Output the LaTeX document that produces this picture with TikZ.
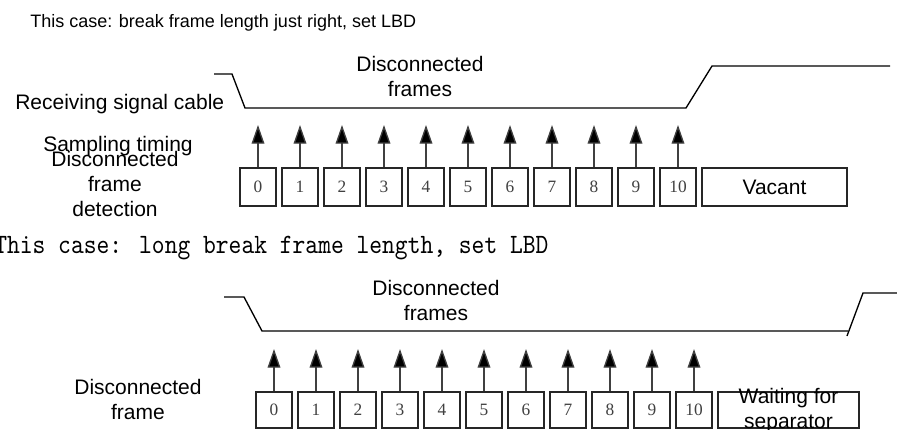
\documentclass[tikz,border=0pt]{standalone}
\usepackage{fontspec}
\setmainfont{Liberation Sans}
\newfontfamily\numfont{Liberation Serif}
\newfontfamily\cnmono{lmmono10-regular.otf}[FakeStretch=0.87]
\usetikzlibrary{arrows.meta}
\begin{document}
\begin{tikzpicture}[x=0.75pt,y=-0.75pt,
  lbl/.style={font=\fontsize{15.75}{18.75}\selectfont, inner sep=0, align=center},
  title/.style={font=\fontsize{13.5}{16}\selectfont, inner sep=0},
  wave/.style={line width=1pt, black},
  cell/.style={draw=black!85, line width=0.8pt, minimum width=27pt, inner sep=0,
    font=\numfont\fontsize{13}{15}\selectfont, text=black!75},
  bigcell/.style={draw=black!85, line width=0.8pt, inner sep=0, font=\fontsize{15.75}{18.75}\selectfont, align=center},
  samp/.style={draw=black!75, line width=1pt, -{Triangle[length=14pt,width=9.5pt,fill=black]}}]
\fill[white] (0,0) rectangle (897,429);
\useasboundingbox (0,0) rectangle (897,429);

% ---------- upper case ----------
\node[title, anchor=base west] (title1) at (30,27) {This case: break frame length just right, set LBD};
\node[lbl] (dfr1) at (420,76) {Disconnected\\frames};
\node[lbl, anchor=west] (rsc) at (15,104) {Receiving signal cable};
\draw[wave] (214,74) -- (232,74) -- (245,108) -- (686,108) -- (712,66) -- (890,66);
\node[lbl] (st) at (118,146) {Sampling timing};
\node[lbl] (dfd) at (115,184) {Disconnected\\frame\\detection};
\foreach \i in {0,...,10} {
  \node[cell, minimum height=28.5pt] (t\i) at ({258+42*\i},187) {\i};
  \coordinate (ta\i) at ({258+42*\i},125);
  \draw[samp] (t\i) -- (ta\i);
}
\node[bigcell, minimum width=108.75pt, minimum height=28.5pt] (vac) at (774.5,187) {Vacant};

% ---------- lower case ----------
\node[anchor=base west, inner sep=0, font=\cnmono\fontsize{21}{24}\selectfont] (title2) at (-6,253) {This case: long break frame length, set LBD};
\node[lbl] (dfr2) at (436,300) {Disconnected\\frames};
\draw[wave] (224,297) -- (244,297) -- (262,331) -- (848,331);
\draw[wave] (847,336) -- (863,293) -- (897,293);
\node[lbl] (dfb) at (138,399) {Disconnected\\frame};
\foreach \i in {0,...,10} {
  \node[cell, minimum height=27pt] (b\i) at ({274+42*\i},410) {\i};
  \coordinate (ba\i) at ({274+42*\i},349);
  \draw[samp] (b\i) -- (ba\i);
}
\node[bigcell, minimum width=105.75pt, minimum height=27pt] (wfs) at (788.5,410) {};
\node[lbl] (wfst) at (788.5,411) {Waiting for\\separator};
\end{tikzpicture}
\end{document}
